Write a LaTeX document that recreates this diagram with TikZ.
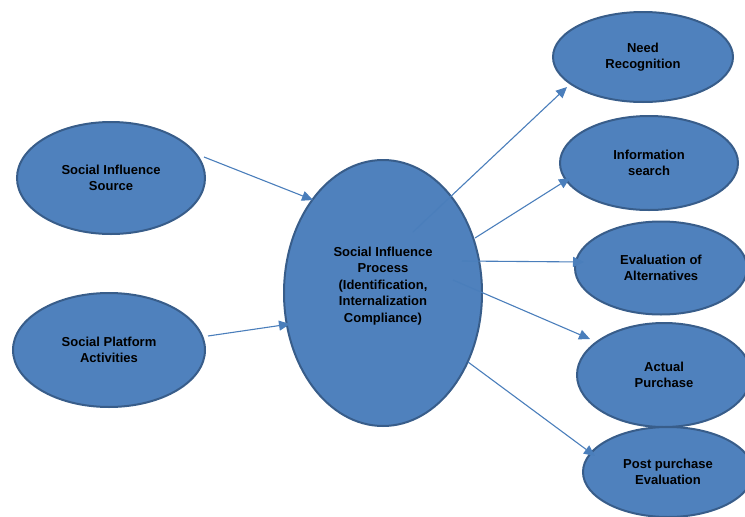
\documentclass[tikz,border=0pt]{standalone}
\usepackage{fontspec}
\setmainfont{Liberation Sans}
\usetikzlibrary{arrows.meta,shapes.geometric}
\definecolor{ellfill}{HTML}{4F81BD}
\definecolor{elledge}{HTML}{385D8A}
\definecolor{arrcol}{HTML}{4A7EBB}
\tikzset{
  lbl/.style={align=center, text=black, font=\fontsize{13}{16.5}\selectfont\bfseries},
  ell/.style={lbl, ellipse, draw=elledge, fill=ellfill, line width=2pt, inner sep=0pt},
  arr/.style={draw=arrcol, line width=1.1pt, -{Triangle[length=11pt,width=10pt]}}
}
\begin{document}
\begin{tikzpicture}[x=1pt,y=-1pt]
\useasboundingbox (0,0) rectangle (745,517);
\clip (0,0) rectangle (745,517);
\node[ell, minimum width=188pt, minimum height=112pt] (src) at (111,178) {Social Influence\\Source};
\node[ell, minimum width=192pt, minimum height=114pt] (plat) at (109,350) {Social Platform\\Activities};
\node[ell, minimum width=198pt, minimum height=266pt] (c) at (383,293) {};
\node[lbl] (ctext) at (383,286) {Social Influence\\Process\\(Identification,\\Internalization\\Compliance)};
\node[ell, minimum width=180pt, minimum height=90pt] (need) at (643,57) {Need\\Recognition};
\node[ell, minimum width=178pt, minimum height=94pt] (info) at (649,163) {Information\\search};
\node[ell, minimum width=172pt, minimum height=93pt] (eval) at (661,268) {Evaluation of\\Alternatives};
\node[ell, minimum width=174pt, minimum height=104pt] (act) at (664,375) {Actual\\Purchase};
\node[ell, minimum width=170pt, minimum height=90pt] (post) at (668,472) {Post purchase\\Evaluation};
% connector end points
\coordinate (s1) at (204,157); \coordinate (e1) at (313,200);
\coordinate (s2) at (208,336); \coordinate (e2) at (290,324);
\coordinate (s3) at (413,232); \coordinate (e3) at (567,87);
\coordinate (s4) at (475,238); \coordinate (e4) at (570,178);
\coordinate (s5) at (462,261); \coordinate (e5) at (584,262);
\coordinate (s6) at (453,280); \coordinate (e6) at (590,339);
\coordinate (s7) at (468,362); \coordinate (e7) at (595,456);
\draw[arr] (s1) -- (e1);
\draw[arr] (s2) -- (e2);
\draw[arr] (s3) -- (e3);
\draw[arr] (s4) -- (e4);
\draw[arr] (s5) -- (e5);
\draw[arr] (s6) -- (e6);
\draw[arr] (s7) -- (e7);
\end{tikzpicture}
\end{document}
